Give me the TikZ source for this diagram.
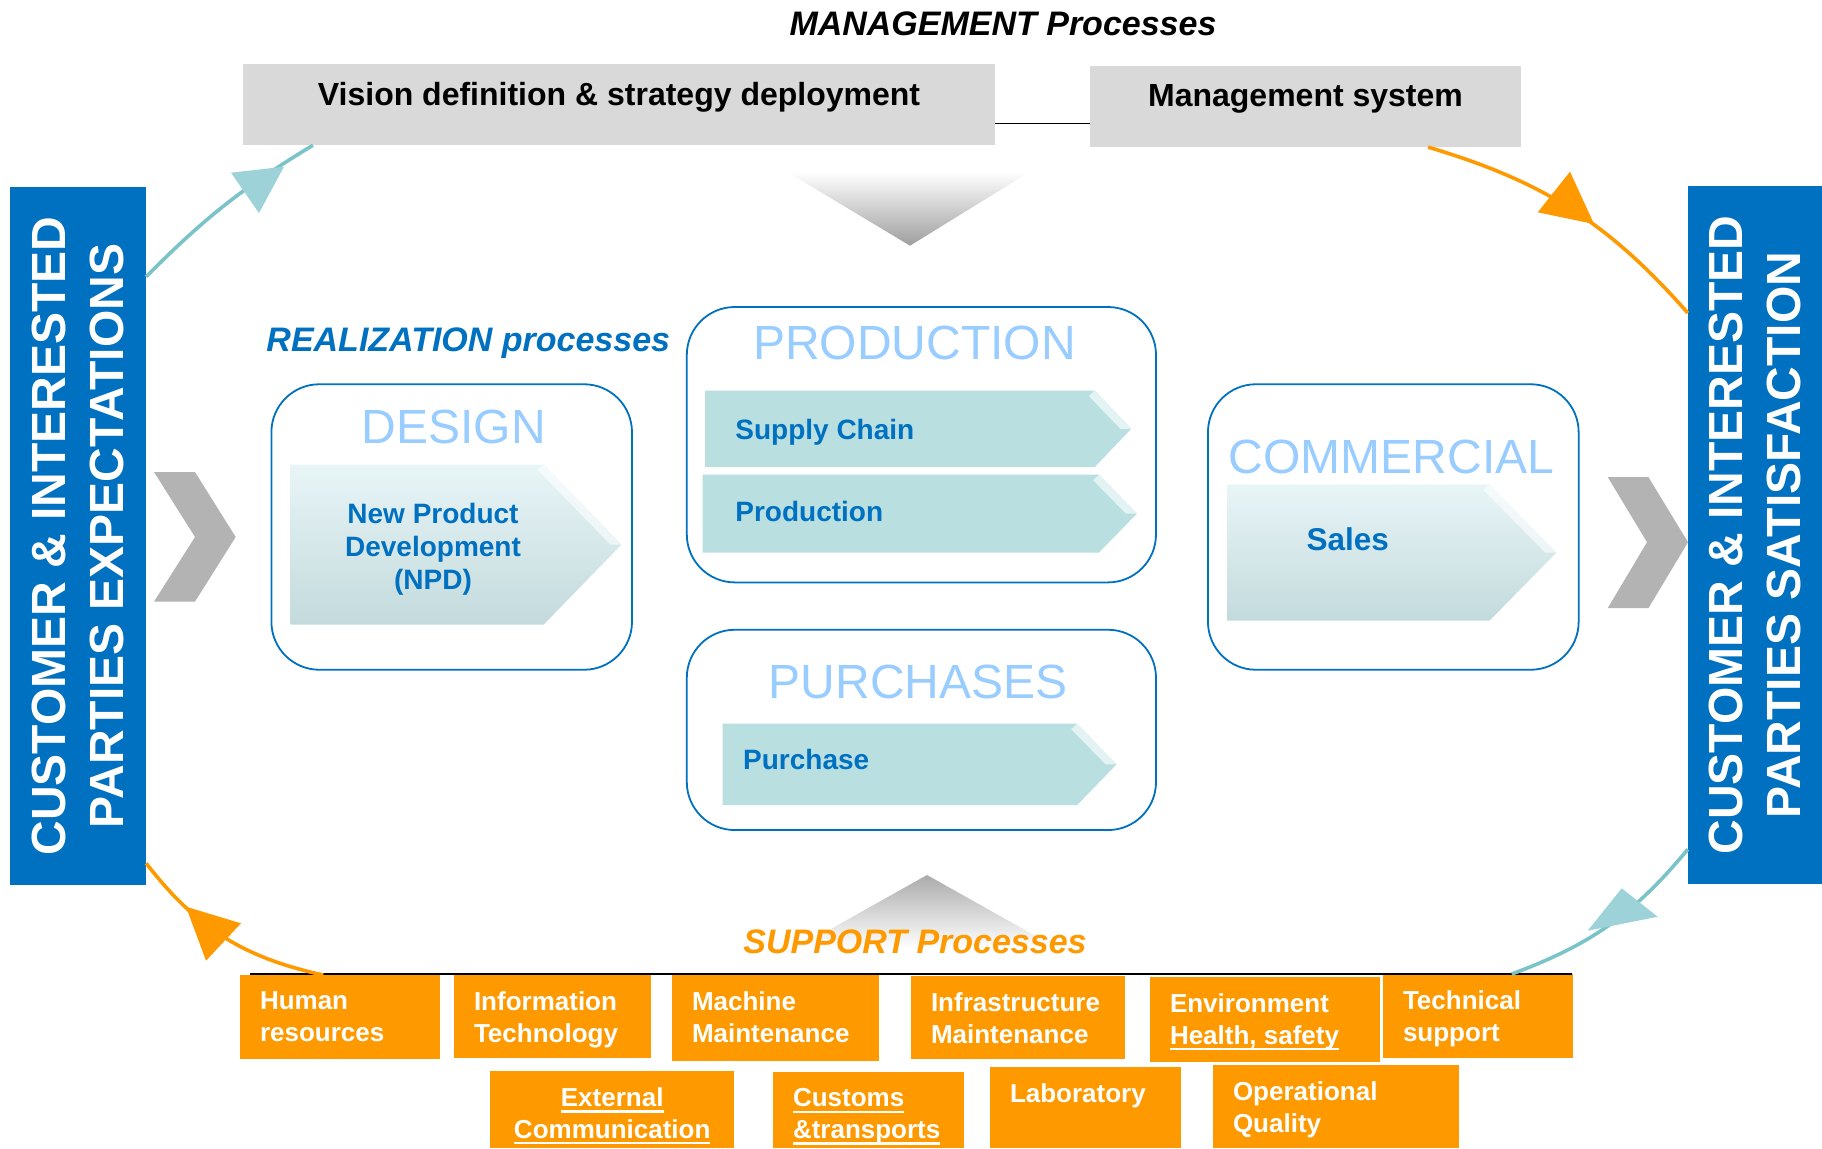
\documentclass[tikz,border=0pt]{standalone}
\usepackage{fontspec}
\setmainfont{Liberation Sans}
\usetikzlibrary{positioning}
\definecolor{barblue}{HTML}{0070C0}
\definecolor{suporange}{HTML}{FF9900}
\definecolor{mgmtgray}{HTML}{D9D9D9}
\definecolor{chevgray}{HTML}{B3B3B3}
\definecolor{titleblue}{HTML}{99CCFF}
\definecolor{loopteal}{HTML}{7AC4C9}
\definecolor{headteal}{HTML}{9DD3D8}
\definecolor{arrowteal}{HTML}{B9DFE0}
\definecolor{arrowlight}{HTML}{E8F5F7}
\definecolor{arrowdark}{HTML}{C3DADC}
\newsavebox{\ulnbox}
\newcommand{\uln}[1]{\sbox{\ulnbox}{#1}\rlap{\rule[-6.2pt]{\wd\ulnbox}{2.4pt}}\usebox{\ulnbox}}
\tikzset{
    heading/.style={anchor=base, inner sep=0pt, font=\bfseries\itshape\fontsize{34}{40}\selectfont},
    mgmtbox/.style={fill=mgmtgray, inner sep=0pt, text height=23pt, text depth=22pt,
        minimum height=81pt, font=\bfseries\fontsize{32}{38}\selectfont},
    custbar/.style={fill=barblue, text=white, rotate=90, align=center, inner sep=0pt,
        minimum width=698pt, font=\bfseries\fontsize{48}{58}\selectfont},
    area/.style={draw=barblue, line width=1.8pt, rounded corners=48pt, fill=white, inner sep=0pt},
    areatitle/.style={text=titleblue, anchor=base, inner sep=0pt, font=\fontsize{48}{56}\selectfont},
    steptext/.style={text=barblue, anchor=base west, inner sep=0pt, font=\bfseries\fontsize{28}{33}\selectfont},
    flatstep/.style={fill=arrowteal},
    shadestep/.style={top color=arrowlight, bottom color=arrowdark},
    suppbox/.style={fill=suporange, anchor=north west, inner sep=0pt},
    supptext/.style={text=white, inner sep=0pt, align=left,
        font=\bfseries\fontsize{26}{31.6}\selectfont, below right=16.5pt and 19.8pt of #1.north west},
    chevron/.style={fill=chevgray},
    cycleline/.style={line width=3.6pt},
}
% left x, top y, shoulder x, tip x, bottom y
\newcommand{\procarrow}[6]{%
    \path[#1] (#2,#3) -- (#4,#3) -- (#5,{(#3+#6)/2}) -- (#4,#6) -- (#2,#6) -- cycle;
    \fill[white, opacity=0.6] (#4,#3) -- (#5,{(#3+#6)/2}) -- ({#5-11},{(#3+#6)/2}) -- ({#4-6},{#3+5.5}) -- cycle;
}

\begin{document}
\begin{tikzpicture}[x=1pt, y=-1pt]
    \useasboundingbox (0,0) rectangle (1822,1148);

    \node[heading] (mgmttitle) at (1003,36) {MANAGEMENT Processes};
    \node[mgmtbox, minimum width=752pt] (vision) at (619,104.5) {Vision definition \& strategy deployment};
    \node[mgmtbox, minimum width=431pt] (msys) at (1305.5,106.4) {Management system};
    \draw[line width=1.5pt] (vision.east |- 0,123.3) -- (msys.west |- 0,123.3);
    \shade[top color=white, bottom color=black!38] (786.7,171.7) -- (1030,171.7) -- (910,245.7) -- cycle;

    \node[custbar, minimum height=136pt] (expect) at (78,536) {CUSTOMER \& INTERESTED\\PARTIES EXPECTATIONS};
    \node[custbar, minimum height=134pt] (satisf) at (1755,535) {CUSTOMER \& INTERESTED\\PARTIES SATISFACTION};

    \fill[chevron] (154,472) -- (195,472) -- (235.7,537) -- (195,601.6) -- (154,601.6) -- (195,537) -- cycle;
    \fill[chevron] (1607.8,477.2) -- (1648.5,477.2) -- (1688,542.2) -- (1648.5,608) -- (1607.8,608) -- (1647,542.2) -- cycle;

    \node[heading, text=barblue] (realiz) at (468.3,351.7) {REALIZATION processes};

    \node[area, minimum width=360.6pt, minimum height=285.5pt] (design) at (451.7,527) {};
    \node[area, minimum width=469.2pt, minimum height=275.4pt] (production) at (921.4,444.7) {};
    \node[area, minimum width=469.2pt, minimum height=200.3pt] (purchases) at (921.4,729.9) {};
    \node[area, minimum width=370.7pt, minimum height=285.5pt] (commercial) at (1393.3,527) {};

    \node[areatitle] (designT) at (453.8,443.5) {DESIGN};
    \node[areatitle] (productionT) at (914.5,359.6) {PRODUCTION};
    \node[areatitle] (purchasesT) at (918.3,698) {PURCHASES};
    \node[areatitle] (commercialT) at (1391.5,473) {COMMERCIAL};

    \procarrow{shadestep}{290.6}{464.6}{543.8}{621.4}{624.5}
    \procarrow{flatstep}{705}{390.5}{1094.8}{1131.2}{467}
    \procarrow{flatstep}{702.6}{474.7}{1099}{1136.9}{552.5}
    \procarrow{flatstep}{722.6}{723.7}{1077.2}{1116.5}{805}
    \procarrow{shadestep}{1227.2}{484.5}{1489.5}{1556.3}{620.7}

    \node[steptext, anchor=north, align=center] (npd) at (433,502.7) {New Product\\Development\\(NPD)};
    \node[steptext] (supply) at (735.2,439.2) {Supply Chain};
    \node[steptext] (prod) at (735.2,521) {Production};
    \node[steptext] (purch) at (743,769.3) {Purchase};
    \node[steptext, font=\bfseries\fontsize{31.5}{36}\selectfont] (sales) at (1306.4,550.7) {Sales};

    \shade[top color=black!33, bottom color=white] (927,875) -- (1057,948) -- (797,948) -- cycle;
    \node[heading, text=suporange] (supptitle) at (915,953) {SUPPORT Processes};

    \node[suppbox, minimum width=200pt, minimum height=84pt] (hr) at (240,975) {};
    \node[suppbox, minimum width=197pt, minimum height=83pt] (it) at (454,975) {};
    \node[suppbox, minimum width=207pt, minimum height=86pt] (mach) at (672,975) {};
    \node[suppbox, minimum width=214pt, minimum height=83pt] (infra) at (911,976) {};
    \node[suppbox, minimum width=230pt, minimum height=85pt] (env) at (1150,977) {};
    \node[suppbox, minimum width=190pt, minimum height=84pt] (tech) at (1383,974) {};
    \node[suppbox, minimum width=244pt, minimum height=77pt] (ext) at (490,1071) {};
    \node[suppbox, minimum width=191pt, minimum height=76pt] (cust) at (773,1072) {};
    \node[suppbox, minimum width=191pt, minimum height=81pt] (lab) at (990,1067) {};
    \node[suppbox, minimum width=246pt, minimum height=83pt] (opq) at (1213,1065) {};

    \node[supptext=hr] (hrT) {Human\\resources};
    \node[supptext=it] (itT) {Information\\Technology};
    \node[supptext=mach] (machT) {Machine\\Maintenance};
    \node[supptext=infra] (infraT) {Infrastructure\\Maintenance};
    \node[supptext=env] (envT) {Environment\\\uln{Health, safety}};
    \node[supptext=tech] (techT) {Technical\\support};
    \node[supptext=ext, align=center, below=16.5pt of ext.north] (extT) {\uln{External}\\\uln{Communication}};
    \node[supptext=cust] (custT) {\uln{Customs}\\\uln{\&transports}};
    \node[supptext=lab] (labT) {Laboratory};
    \node[supptext=opq] (opqT) {Operational\\Quality};

    \coordinate (suppL) at (250,974);
    \coordinate (suppR) at (1572,974);
    \draw[line width=2pt] (suppL) -- (suppR);

    \draw[cycleline, loopteal] (expect.south |- 0,276.7) to[bend left=7] (vision.south -| 313,0);
    \draw[cycleline, suporange] (msys.south -| 1428,0) to[bend left=16] (satisf.north |- 0,313);
    \draw[cycleline, loopteal] (satisf.north |- 0,849.3) to[bend left=15] (tech.north -| 1511.7,0);
    \draw[cycleline, suporange] (hr.north -| 323.3,0) to[bend left=20] (expect.south |- 0,863.3);

    \fill[headteal] (231,172.7) -- (284,166.7) -- (259,213) -- cycle;
    \fill[suporange] (1570,171.7) -- (1537.7,212.3) -- (1594,224) -- cycle;
    \fill[headteal] (1621.7,888.3) -- (1657.7,916.7) -- (1587.7,930.7) -- cycle;
    \fill[suporange] (186,906.7) -- (241,923.3) -- (206,960.7) -- cycle;
\end{tikzpicture}
\end{document}
